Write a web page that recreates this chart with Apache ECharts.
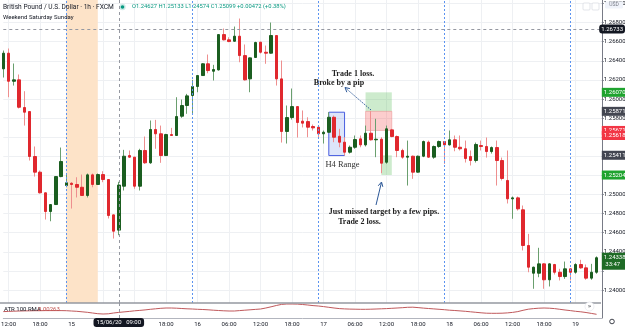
<!DOCTYPE html>
<html lang="en">
<head>
<meta charset="UTF-8">
<title>GBPUSD 1h</title>
<script src="https://cdn.jsdelivr.net/npm/echarts@6/dist/echarts.min.js"></script>
<style>
    html, body { margin: 0; padding: 0; background: #fff; }
    #chart { width: 625px; height: 327px; }
</style>
</head>
<body>
<div id="chart"></div>
<script>
    // trading hours on screen: [day, first hour, last hour]
    var sessions = [['12', 11, 20], ['14', 21, 23], ['15', 0, 23], ['16', 0, 23], ['17', 0, 23], ['18', 0, 23], ['19', 0, 4]];

    var opens = [1.26316,1.26480,1.26186,1.26201,1.25911,1.25869,1.25398,1.25234,1.25018,1.24822,
        1.24895,1.25188,1.25094,1.25118,1.25105,1.25076,1.24990,1.25206,1.25105,1.25209,
        1.25157,1.24787,1.24627,1.25087,1.25408,1.25391,1.25087,1.25461,1.25332,1.25681,
        1.25636,1.25408,1.25628,1.25618,1.25820,1.25932,1.26037,1.26131,1.26246,1.26369,
        1.26291,1.26305,1.26675,1.26620,1.26605,1.26658,1.26455,1.26211,1.26435,1.26595,
        1.26490,1.26480,1.26665,1.26211,1.25660,1.25806,1.25921,1.25768,1.25764,1.25712,
        1.25705,1.25636,1.25652,1.25809,1.25610,1.25548,1.25443,1.25495,1.25583,1.25520,
        1.25642,1.25573,1.25579,1.25338,1.25677,1.25607,1.25461,1.25391,1.25401,1.25234,
        1.25401,1.25548,1.25391,1.25503,1.25555,1.25520,1.25573,1.25495,1.25479,1.25398,
        1.25356,1.25513,1.25503,1.25450,1.25492,1.25356,1.25147,1.24955,1.24965,1.24840,
        1.24466,1.24176,1.24176,1.24274,1.24107,1.24267,1.24186,1.24141,1.24222,1.24186,
        1.24267,1.24232,1.24124,1.24186];
    var closes = [1.26480,1.26186,1.26201,1.25914,1.25862,1.25398,1.25234,1.25018,1.24822,1.24895,
        1.25188,1.25346,1.25123,1.25105,1.25076,1.24990,1.25206,1.25105,1.25209,1.25157,
        1.24780,1.24616,1.25099,1.25401,1.25391,1.25087,1.25461,1.25332,1.25681,1.25636,
        1.25408,1.25628,1.25618,1.25817,1.25932,1.26033,1.26131,1.26246,1.26369,1.26298,
        1.26309,1.26675,1.26620,1.26602,1.26658,1.26455,1.26201,1.26431,1.26592,1.26490,
        1.26480,1.26665,1.26211,1.25660,1.25806,1.25921,1.25754,1.25747,1.25705,1.25698,
        1.25636,1.25652,1.25809,1.25600,1.25548,1.25443,1.25495,1.25576,1.25520,1.25642,
        1.25573,1.25579,1.25328,1.25688,1.25607,1.25461,1.25391,1.25401,1.25234,1.25401,
        1.25555,1.25391,1.25503,1.25555,1.25520,1.25573,1.25495,1.25479,1.25377,1.25356,
        1.25524,1.25503,1.25450,1.25492,1.25356,1.25168,1.24955,1.24965,1.24850,1.24466,
        1.24239,1.24239,1.24274,1.24107,1.24274,1.24186,1.24141,1.24222,1.24186,1.24267,
        1.24232,1.24124,1.24186,1.24338];
    var lows = [1.26225,1.26019,1.26141,1.25901,1.25722,1.25356,1.25188,1.25010,1.24738,1.24720,
        1.24890,1.25181,1.25076,1.24853,1.24969,1.24985,1.24969,1.25076,1.25100,1.25129,
        1.24749,1.24539,1.24574,1.25042,1.25384,1.25060,1.25042,1.25321,1.25321,1.25479,
        1.25332,1.25405,1.25615,1.25615,1.25803,1.25845,1.25845,1.26071,1.26242,1.26270,
        1.26194,1.26298,1.26613,1.26595,1.26602,1.26385,1.26194,1.26071,1.26430,1.26476,
        1.26369,1.26476,1.26141,1.25544,1.25534,1.25785,1.25597,1.25702,1.25600,1.25670,
        1.25600,1.25534,1.25644,1.25548,1.25495,1.25408,1.25429,1.25479,1.25495,1.25503,
        1.25565,1.25391,1.25223,1.25321,1.25600,1.25391,1.25374,1.25094,1.25164,1.25230,
        1.25391,1.25384,1.25374,1.25489,1.25321,1.25513,1.25453,1.25461,1.25335,1.25304,
        1.25335,1.25461,1.25387,1.25429,1.25094,1.25147,1.24906,1.24746,1.24832,1.24414,
        1.24186,1.24013,1.24134,1.24013,1.24037,1.24162,1.24100,1.24117,1.24100,1.24170,
        1.24222,1.24107,1.24107,1.24170];
    var highs = [1.26508,1.26529,1.26372,1.26257,1.26082,1.25872,1.25503,1.25251,1.25021,1.24897,
        1.25190,1.25492,1.25209,1.25129,1.25181,1.25209,1.25220,1.25220,1.25220,1.25244,
        1.25160,1.24790,1.25133,1.25468,1.25461,1.25395,1.25479,1.25607,1.25775,1.25782,
        1.25722,1.25636,1.25698,1.26019,1.25995,1.26054,1.26201,1.26250,1.26375,1.26466,
        1.26358,1.26678,1.26738,1.26647,1.26759,1.26843,1.26571,1.26435,1.26600,1.26600,
        1.26560,1.26801,1.26670,1.26403,1.25932,1.26110,1.25925,1.25880,1.25809,1.25733,
        1.25722,1.25670,1.25862,1.25827,1.25688,1.25600,1.25513,1.25618,1.25618,1.25722,
        1.25873,1.25793,1.25600,1.25722,1.25688,1.25618,1.25479,1.25565,1.25408,1.25408,
        1.25565,1.25565,1.25513,1.25565,1.25560,1.25670,1.25618,1.25618,1.25565,1.25461,
        1.25544,1.25565,1.25597,1.25503,1.25565,1.25387,1.25461,1.24979,1.24979,1.24885,
        1.24588,1.24245,1.24442,1.24280,1.24280,1.24274,1.24222,1.24298,1.24225,1.24281,
        1.24316,1.24267,1.24274,1.24352];

    // ATR 100 RMA
    var atr = [0.002684,0.002688,0.002692,0.002696,0.002698,0.002700,0.002702,0.002702,0.002704,0.002704,
        0.002704,0.002704,0.002702,0.002696,0.002690,0.002680,0.002670,0.002656,0.002642,0.002636,
        0.002640,0.002656,0.002668,0.002678,0.002688,0.002700,0.002708,0.002718,0.002730,0.002740,
        0.002750,0.002756,0.002756,0.002752,0.002746,0.002740,0.002736,0.002730,0.002726,0.002720,
        0.002712,0.002706,0.002700,0.002696,0.002696,0.002704,0.002712,0.002720,0.002728,0.002736,
        0.002756,0.002780,0.002806,0.002828,0.002836,0.002836,0.002834,0.002826,0.002816,0.002804,
        0.002796,0.002784,0.002770,0.002756,0.002744,0.002738,0.002734,0.002732,0.002730,0.002730,
        0.002732,0.002736,0.002740,0.002744,0.002750,0.002756,0.002762,0.002770,0.002772,0.002764,
        0.002754,0.002746,0.002738,0.002730,0.002722,0.002712,0.002706,0.002698,0.002690,0.002680,
        0.002670,0.002660,0.002652,0.002650,0.002650,0.002652,0.002658,0.002668,0.002684,0.002710,
        0.002732,0.002744,0.002752,0.002756,0.002752,0.002744,0.002730,0.002716,0.002704,0.002690,
        0.002680,0.002666,0.002648,0.002630];

    var priceTicks = [1.240, 1.242, 1.244, 1.246, 1.248, 1.250, 1.252, 1.254, 1.256, 1.258, 1.260, 1.262, 1.264, 1.266, 1.268, 1.270];
    // scale labels left visible (the others sit under price tags)
    var priceLabels = [1.240, 1.244, 1.246, 1.248, 1.250, 1.258, 1.260, 1.262, 1.264, 1.266, 1.268, 1.270];
    var sessionBreaks = [12, 36, 60, 84, 108];
    var weekend = [12, 18];
    var h4Range = {from: 62, to: 65, high: 1.25862, low: 1.25408};
    // long: entry, target, stop ; short: entry, target, stop
    var trade1 = {from: 69, to: 74, entry: 1.25871, target: 1.26070, stop: 1.25671};
    var trade2 = {from: 72, to: 74, entry: 1.25411, target: 1.25204, stop: 1.25618};
    var lastPrice = 1.24338;
    var crossIndex = 22;
    var crossPrice = 1.26733;

    var categories = [];
    sessions.forEach(function (s) {
        for (var h = s[1]; h <= s[2]; h++) {
            categories.push(s[0] + ' ' + (h < 10 ? '0' : '') + h + ':00');
        }
    });
    categories.push(''); // empty slot before the price scale
    var tagIndex = categories.length - 1;

    var wickData = [], bodyData = [];
    for (var i = 0; i < opens.length; i++) {
        wickData.push([opens[i], closes[i], lows[i], highs[i]]);
        bodyData.push([opens[i], closes[i], Math.min(opens[i], closes[i]), Math.max(opens[i], closes[i])]);
    }

    function everySix(idx, val) {
        if (!val) return false;
        return Number(val.split(' ')[1].slice(0, 2)) % 6 === 0;
    }

    var GREEN = '#1b5e20', RED = '#e0282e', TXT = '#131722';

    // coloured price tags on the scale
    var tags = [
        {v: trade1.target, c: '#1fa32f'},
        {v: trade1.entry, c: '#434651'},
        {v: trade1.stop, c: '#f23645'},
        {v: trade2.stop, c: '#f23645'},
        {v: trade2.entry, c: '#434651'},
        {v: trade2.target, c: '#1fa32f'}
    ];
    var tagData = tags.map(function (t) {
        return {value: [tagIndex, t.v], label: {backgroundColor: t.c}};
    });
    tagData.push({value: [tagIndex, lastPrice],
        label: {backgroundColor: '#1e6b26', lineHeight: 7, offset: [0, 3.5],
            formatter: lastPrice.toFixed(5) + '\n 33:47'}});

    var myChart = echarts.init(document.getElementById('chart'), null, {renderer: 'canvas'});
    var option = {
        animation: false,
        backgroundColor: '#fff',
        grid: [
            {left: 3.3, right: 23.2, top: 0, height: 303, outerBoundsMode: 'none'},
            {left: 3.3, right: 23.2, top: 303, height: 15, outerBoundsMode: 'none'}
        ],
        xAxis: [
            {
                type: 'category', gridIndex: 0, data: categories, boundaryGap: false,
                axisLine: {show: false}, axisTick: {show: false}, axisLabel: {show: false},
                splitLine: {show: true, interval: everySix, lineStyle: {color: '#eef0f3'}},
                axisPointer: {show: true, type: 'line', value: crossIndex, status: 'show', snap: false,
                    triggerTooltip: false, label: {show: false},
                    lineStyle: {color: '#9598a1', type: [3, 3], width: 1}}
            },
            {
                type: 'category', gridIndex: 1, data: categories, boundaryGap: false,
                axisLine: {show: true, lineStyle: {color: '#b2b5be'}}, axisTick: {show: false},
                axisLabel: {show: true, interval: everySix, fontSize: 6, color: TXT, margin: 3, fontFamily: 'Roboto',
                    formatter: function (val) {
                        var p = val.split(' ');
                        return p[1] === '00:00' ? p[0] : p[1];
                    }},
                splitLine: {show: false},
                axisPointer: {show: true, type: 'line', value: crossIndex, status: 'show', snap: false,
                    triggerTooltip: false,
                    lineStyle: {color: '#9598a1', type: [3, 3], width: 1},
                    label: {show: true, backgroundColor: TXT, color: '#fff', fontSize: 6, fontFamily: 'Roboto',
                        padding: [1.5, 3], margin: 1,
                        formatter: function (p) {
                            var v = categories[p.value] || p.value;
                            var s = String(v).split(' ');
                            return s[0] + '/06/20   ' + s[1];
                        }}}
            }
        ],
        yAxis: [
            {
                type: 'value', gridIndex: 0, position: 'right', min: 1.23864, max: 1.27037,
                axisLine: {show: true, lineStyle: {color: '#787b86'}},
                axisTick: {show: true, length: 2, customValues: priceTicks, lineStyle: {color: '#787b86'}},
                axisLabel: {customValues: priceLabels, fontSize: 6, color: TXT, margin: 2, fontFamily: 'Roboto',
                    formatter: function (v) { return v.toFixed(5); }},
                splitLine: {show: true, lineStyle: {color: '#eef0f3'}},
                axisPointer: {show: true, type: 'line', value: crossPrice, status: 'show', triggerTooltip: false,
                    lineStyle: {color: '#9598a1', type: [3, 3], width: 1},
                    label: {show: true, backgroundColor: TXT, color: '#fff', fontSize: 6, fontFamily: 'Roboto',
                        padding: [1.5, 2], margin: 1,
                        formatter: function (p) { return Number(p.value).toFixed(5); }}}
            },
            {
                type: 'value', gridIndex: 1, position: 'right', min: 0.002556, max: 0.002856,
                axisLine: {show: true, lineStyle: {color: '#787b86'}},
                axisTick: {show: false}, axisLabel: {show: false}, splitLine: {show: false}
            }
        ],
        series: [
            {
                name: 'wicks', type: 'candlestick', xAxisIndex: 0, yAxisIndex: 0, data: wickData,
                barWidth: 1, clip: false, silent: true,
                itemStyle: {color: '#6a9f6e', color0: '#ee8f8f', borderColor: '#6a9f6e', borderColor0: '#ee8f8f', borderWidth: 1},
                markArea: {
                    silent: true,
                    data: [
                        [{xAxis: weekend[0], itemStyle: {color: '#fde3c8'}}, {xAxis: weekend[1]}],
                        [{coord: [h4Range.from, h4Range.high], itemStyle: {color: 'rgba(120,150,235,0.25)', borderColor: '#4a5fe0', borderWidth: 1}},
                            {coord: [h4Range.to, h4Range.low]}],
                        [{coord: [trade1.from, trade1.target], itemStyle: {color: 'rgba(90,190,90,0.3)'}},
                            {coord: [trade1.to, trade1.entry]}],
                        [{coord: [trade1.from, trade1.entry], itemStyle: {color: 'rgba(245,90,90,0.3)', borderColor: 'rgba(230,120,120,0.8)', borderWidth: 0.5}},
                            {coord: [trade1.to, trade1.stop]}],
                        [{coord: [trade2.from, trade2.entry], itemStyle: {color: 'rgba(90,190,90,0.3)'}},
                            {coord: [trade2.to, trade2.target]}]
                    ]
                },
                markLine: {
                    silent: true, symbol: 'none', label: {show: false},
                    lineStyle: {color: '#5b93f0', type: [2, 2], width: 1},
                    data: sessionBreaks.map(function (b) { return {xAxis: b}; })
                }
            },
            {
                name: 'bodies', type: 'candlestick', xAxisIndex: 0, yAxisIndex: 0, data: bodyData,
                barWidth: 3, clip: false, silent: true,
                itemStyle: {color: GREEN, color0: RED, borderColor: GREEN, borderColor0: RED, borderWidth: 1}
            },
            {
                name: 'tags', type: 'scatter', xAxisIndex: 0, yAxisIndex: 0, data: tagData,
                symbolSize: 0, clip: false, silent: true, z: 10,
                itemStyle: {opacity: 1},
                label: {show: true, position: 'right', distance: 0, color: '#fff', fontSize: 6, fontFamily: 'Roboto',
                    padding: [1.5, 2], opacity: 1,
                    formatter: function (p) { return p.value[1].toFixed(5); }}
            },
            {
                name: 'ATR 100 RMA', type: 'line', xAxisIndex: 1, yAxisIndex: 1, data: atr,
                symbol: 'none', silent: true, lineStyle: {color: '#c0595c', width: 1}
            }
        ],
        graphic: [
            {type: 'line', shape: {x1: 0, y1: 303, x2: 601, y2: 303}, style: {stroke: '#9598a1', lineWidth: 1.5}, z: 50},
            {type: 'text', x: 3, y: 7, style: {text: 'British Pound / U.S. Dollar · 1h · FXCM', fontSize: 6.6, fontFamily: 'Roboto', fill: TXT, verticalAlign: 'middle'}, z: 50},
            {type: 'circle', shape: {cx: 122.5, cy: 7, r: 3.2}, style: {fill: 'rgba(8,153,129,0.2)'}, z: 50},
            {type: 'circle', shape: {cx: 122.5, cy: 7, r: 1.8}, style: {fill: '#089981'}, z: 51},
            {type: 'text', x: 132, y: 7, style: {text: 'O1.24627 H1.25133 L1.24574 C1.25099 +0.00472 (+0.38%)', fontSize: 5.8, fontFamily: 'Roboto', fill: '#089981', verticalAlign: 'middle'}, z: 50},
            {type: 'text', x: 3, y: 17, style: {text: 'Weekend Saturday Sunday', fontSize: 6, fontFamily: 'Roboto', fill: TXT, verticalAlign: 'middle'}, z: 50},
            {type: 'text', x: 4, y: 309.5, style: {text: 'ATR 100 RMA', fontSize: 6, fontFamily: 'Roboto', fill: TXT, verticalAlign: 'middle'}, z: 50},
            {type: 'text', x: 38, y: 309.5, style: {text: '0.00263', fontSize: 6, fontFamily: 'Roboto', fill: '#c0504d', verticalAlign: 'middle'}, z: 50},
            // annotations
            {type: 'text', x: 353, y: 74, style: {text: 'Trade 1 loss.', fontSize: 8, fontWeight: 'bold', fontFamily: 'Liberation Serif', fill: '#222', align: 'center', verticalAlign: 'middle'}, z: 50},
            {type: 'text', x: 339, y: 82.5, style: {text: 'Broke by a pip', fontSize: 8, fontWeight: 'bold', fontFamily: 'Liberation Serif', fill: '#222', align: 'center', verticalAlign: 'middle'}, z: 50},
            {type: 'line', shape: {x1: 371, y1: 110, x2: 345.5, y2: 88}, style: {stroke: '#2b5797', lineWidth: 1, lineDash: [1.5, 1.2]}, z: 50},
            {type: 'polyline', shape: {points: [[346.8, 92.2], [345, 87.5], [349.9, 88.6]]}, style: {stroke: '#2b5797', lineWidth: 1, fill: null}, z: 50},
            {type: 'text', x: 342.5, y: 165, style: {text: 'H4 Range', fontSize: 8.5, fontFamily: 'Liberation Serif', fill: '#333', align: 'center', verticalAlign: 'middle'}, z: 50},
            {type: 'line', shape: {x1: 376, y1: 205, x2: 381.3, y2: 183}, style: {stroke: '#2b5797', lineWidth: 1}, z: 50},
            {type: 'polyline', shape: {points: [[378.2, 185.8], [381.5, 182], [382.8, 186.8]]}, style: {stroke: '#2b5797', lineWidth: 1, fill: null}, z: 50},
            {type: 'text', x: 384, y: 212, style: {text: 'Just missed target by a few pips.', fontSize: 8, fontWeight: 'bold', fontFamily: 'Liberation Serif', fill: '#222', align: 'center', verticalAlign: 'middle'}, z: 50},
            {type: 'text', x: 359.5, y: 222, style: {text: 'Trade 2 loss.', fontSize: 8, fontWeight: 'bold', fontFamily: 'Liberation Serif', fill: '#222', align: 'center', verticalAlign: 'middle'}, z: 50},
            // toolbar bits
            {type: 'rect', shape: {x: 583, y: 3, width: 7, height: 7, r: 1}, style: {fill: '#fff', stroke: '#d1d4dc', lineWidth: 0.6}, z: 50},
            {type: 'rect', shape: {x: 592, y: 3, width: 7, height: 7, r: 1}, style: {fill: '#fff', stroke: '#d1d4dc', lineWidth: 0.6}, z: 50},
            {type: 'rect', shape: {x: 605, y: 1.5, width: 18, height: 7, r: 1}, style: {fill: '#f0f3fa'}, z: 50},
            {type: 'text', x: 614, y: 5, style: {text: 'USD', fontSize: 5, fontFamily: 'Roboto', fill: '#787b86', align: 'center', verticalAlign: 'middle'}, z: 51},
            {type: 'circle', shape: {cx: 589.5, cy: 306.5, r: 4.5}, style: {fill: '#fff', stroke: '#e0e3eb', lineWidth: 0.6}, z: 50},
            {type: 'text', x: 589.5, y: 306.5, style: {text: '»', fontSize: 6, fontFamily: 'DejaVu Sans', fill: TXT, align: 'center', verticalAlign: 'middle'}, z: 51},
            {type: 'circle', shape: {cx: 612, cy: 321.5, r: 2.3}, style: {fill: '#fff', stroke: TXT, lineWidth: 0.8}, z: 50}
        ]
    };
    myChart.setOption(option);
</script>
</body>
</html>
